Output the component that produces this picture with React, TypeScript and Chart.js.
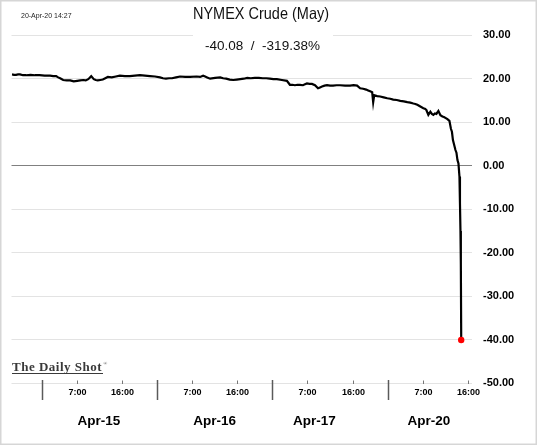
import React, { useEffect, useRef } from "react";
import { Chart, registerables } from "chart.js";

Chart.register(...registerables);

// x = trading hours since Apr-15 00:00 (23 trading hours per day)
const times = [
  -5.9, -5.5, -5.1, -4.7, -4.3, -3.7, -3.1, -2.2, -1.3, -0.4, 0.6, 1.7, 2.3, 2.9, 3.3, 3.7, 4.3, 5.0, 5.7, 6.4,
  7.1, 7.7, 8.3, 8.8, 9.3, 9.6, 9.9, 10.4, 10.8, 11.2, 11.7, 12.2, 12.7, 13.2, 14.0, 14.8, 15.6, 16.6, 17.6, 18.6,
  19.6, 20.6, 21.6, 22.6, 23.6, 24.2, 24.8, 25.4, 26.0, 26.8, 27.6, 28.6, 29.6, 30.9, 31.6, 32.2, 32.6, 33.0, 33.6, 34.6,
  35.6, 36.2, 36.8, 37.5, 38.2, 38.9, 39.6, 40.3, 41.0, 41.7, 42.5, 43.3, 44.1, 44.8, 45.5, 46.2, 46.9, 47.9, 48.9, 49.5,
  50.0, 50.5, 51.0, 51.5, 52.1, 52.5, 52.9, 53.4, 53.9, 54.5, 55.1, 55.5, 55.9, 56.4, 56.9, 57.5, 58.1, 58.8, 59.5, 60.5,
  61.5, 62.2, 62.9, 63.5, 64.1, 64.7, 65.1, 65.5, 65.9, 66.1, 66.3, 66.9, 67.5, 68.2, 68.9, 69.5, 70.1, 70.8, 71.5, 72.2,
  72.9, 73.5, 74.1, 74.5, 74.9, 75.5, 76.1, 76.4, 76.7, 77.1, 77.5, 77.8, 78.1, 78.4, 78.7, 79.1, 79.5, 79.9, 80.2, 80.5,
  80.9, 81.3, 81.6, 81.8, 82.0, 82.2, 82.5, 82.7, 82.9, 83.1, 83.3, 83.4, 83.5, 83.55, 83.6, 83.65,
];
const prices = [
  21.0, 20.9, 20.9, 21.0, 21.0, 20.8, 20.8, 20.9, 20.8, 20.8, 20.7, 20.7, 20.6, 20.6, 20.3, 20.1, 19.7, 19.6, 19.6, 19.4,
  19.5, 19.6, 19.7, 19.6, 19.9, 20.2, 20.6, 19.9, 19.7, 19.6, 19.7, 19.8, 20.1, 20.4, 20.3, 20.5, 20.7, 20.6, 20.6, 20.7,
  20.8, 20.7, 20.6, 20.5, 20.3, 20.1, 20.0, 20.1, 20.1, 20.3, 20.5, 20.4, 20.4, 20.5, 20.4, 20.7, 20.5, 20.3, 20.0, 20.2,
  20.3, 20.1, 20.0, 19.8, 19.7, 19.8, 19.9, 20.0, 20.2, 20.1, 20.2, 20.2, 20.1, 20.1, 20.0, 19.9, 19.9, 19.7, 19.5, 18.6,
  18.6, 18.5, 18.6, 18.6, 18.5, 18.7, 18.9, 18.8, 18.8, 18.5, 17.8, 18.0, 18.2, 18.4, 18.5, 18.4, 18.4, 18.5, 18.5, 18.4,
  18.4, 18.5, 18.4, 17.8, 17.7, 17.5, 17.3, 17.1, 16.9, 14.6, 16.2, 16.0, 15.9, 15.7, 15.5, 15.4, 15.2, 15.1, 14.9, 14.8,
  14.6, 14.5, 14.3, 14.2, 14.0, 13.6, 13.2, 13.1, 12.8, 11.7, 12.4, 11.9, 11.7, 12.0, 11.9, 12.6, 11.6, 11.3, 11.2, 11.0,
  10.7, 10.3, 8.5, 7.8, 5.9, 5.0, 3.6, 3.0, 1.3, 0.5, -2.5, -8.6, -15.0, -21.7, -22.5, -40.08,
];

const dayBoundaries = [0, 23, 46, 69];
const hourTicks = [7, 16, 30, 39, 53, 62, 76, 85];
const hourTickLabels = ["7:00", "16:00", "7:00", "16:00", "7:00", "16:00", "7:00", "16:00"];
const dayLabels = ["Apr-15", "Apr-16", "Apr-17", "Apr-20"];
const dayLabelAt = [11.4, 34.5, 54.4, 77.2];

const titleText = "NYMEX Crude (May)";
const subtitleText = "-40.08  /  -319.38%";
const stampText = "20-Apr-20 14:27";
const logoText = "The Daily Shot";

const FONT = "'Liberation Sans', Arial, sans-serif";

const decor = {
  id: "decor",
  afterDraw(chart: any) {
    const ctx = chart.ctx as CanvasRenderingContext2D;
    const xs = chart.scales.x;
    ctx.save();

    // frame
    ctx.strokeStyle = "#d6d6d6";
    ctx.lineWidth = 1.5;
    ctx.strokeRect(0.75, 0.75, 535.5, 443.5);

    // timestamp
    ctx.fillStyle = "#222";
    ctx.font = `7px ${FONT}`;
    ctx.textAlign = "left";
    ctx.textBaseline = "middle";
    ctx.fillText(stampText, 21, 16);

    // title
    ctx.fillStyle = "#111";
    ctx.font = `16.5px ${FONT}`;
    ctx.textAlign = "center";
    ctx.textBaseline = "middle";
    ctx.fillText(titleText, 261, 14, 136);

    // subtitle box (covers top gridline)
    ctx.fillStyle = "#fff";
    ctx.fillRect(193, 28, 140, 28);
    ctx.fillStyle = "#111";
    ctx.font = `13.5px ${FONT}`;
    ctx.fillText(subtitleText, 262.5, 46, 116);

    // logo
    ctx.fillStyle = "#3a3a3a";
    ctx.font = `bold 13px 'Liberation Serif', serif`;
    ctx.textAlign = "left";
    ctx.textBaseline = "alphabetic";
    (ctx as any).letterSpacing = "0.5px";
    ctx.fillText(logoText, 12, 370.5, 92);
    (ctx as any).letterSpacing = "0px";
    ctx.font = `5px 'Liberation Serif', serif`;
    ctx.fillText("®", 103.5, 365);
    ctx.strokeStyle = "#3a3a3a";
    ctx.lineWidth = 1;
    ctx.beginPath();
    ctx.moveTo(12, 373.5);
    ctx.lineTo(103, 373.5);
    ctx.stroke();

    // day boundaries
    ctx.strokeStyle = "#5a5a5a";
    ctx.lineWidth = 1.5;
    dayBoundaries.forEach((d) => {
      const px = Math.round(xs.getPixelForValue(d)) + 0.5;
      ctx.beginPath();
      ctx.moveTo(px, 380);
      ctx.lineTo(px, 400);
      ctx.stroke();
    });

    // hour ticks + labels
    ctx.strokeStyle = "#777";
    ctx.lineWidth = 1;
    ctx.fillStyle = "#000";
    ctx.font = `bold 9px ${FONT}`;
    ctx.textAlign = "center";
    ctx.textBaseline = "middle";
    hourTicks.forEach((h, i) => {
      const px = Math.round(xs.getPixelForValue(h)) + 0.5;
      ctx.beginPath();
      ctx.moveTo(px, 380.5);
      ctx.lineTo(px, 384);
      ctx.stroke();
      ctx.fillText(hourTickLabels[i], px, 393);
    });

    // day labels
    ctx.font = `bold 13.5px ${FONT}`;
    dayLabels.forEach((lab, i) => {
      ctx.fillText(lab, xs.getPixelForValue(dayLabelAt[i]), 421);
    });

    ctx.restore();
  },
};

export default function App() {
  const ref = useRef<HTMLCanvasElement | null>(null);

  useEffect(() => {
    document.body.style.margin = "0";
    const canvas = ref.current;
    if (!canvas) return;
    const points = times.map((t, i) => ({ x: t, y: prices[i] }));
    const last = points.length - 1;
    const chart = new Chart(canvas, {
      type: "line",
      data: {
        datasets: [
          {
            data: points,
            borderColor: "#000",
            borderWidth: 2.2,
            tension: 0,
            pointRadius: (c: any) => (c.dataIndex === last ? 3.2 : 0),
            pointBackgroundColor: "#ff0000",
            pointBorderWidth: 0,
            pointHoverRadius: 0,
          },
        ],
      },
      options: {
        animation: false,
        responsive: false,
        maintainAspectRatio: false,
        events: [],
        layout: { padding: { left: 11.5, right: 0, top: 35.2, bottom: 62.8 } },
        plugins: { legend: { display: false }, tooltip: { enabled: false }, title: { display: false } },
        scales: {
          x: {
            type: "linear",
            display: false,
            min: -6,
            max: 85.8,
          },
          y: {
            position: "right",
            min: -50,
            max: 30,
            afterFit: (s: any) => {
              s.width = 69;
            },
            border: { display: false },
            grid: {
              drawTicks: false,
              lineWidth: 1,
              color: (c: any) => (c.tick && c.tick.value === 0 ? "#808080" : "#e3e3e3"),
            },
            ticks: {
              stepSize: 10,
              padding: 11,
              color: "#000",
              font: { family: FONT, size: 11, weight: "bold" },
              callback: (v: any) => Number(v).toFixed(2),
            },
          },
        },
      },
      plugins: [decor],
    } as any);
    return () => chart.destroy();
  }, []);

  return (
    <div style={{ width: 541, height: 446, position: "relative", background: "#fff" }}>
      <canvas ref={ref} width={541} height={446} style={{ display: "block", width: 541, height: 446 }} />
    </div>
  );
}
